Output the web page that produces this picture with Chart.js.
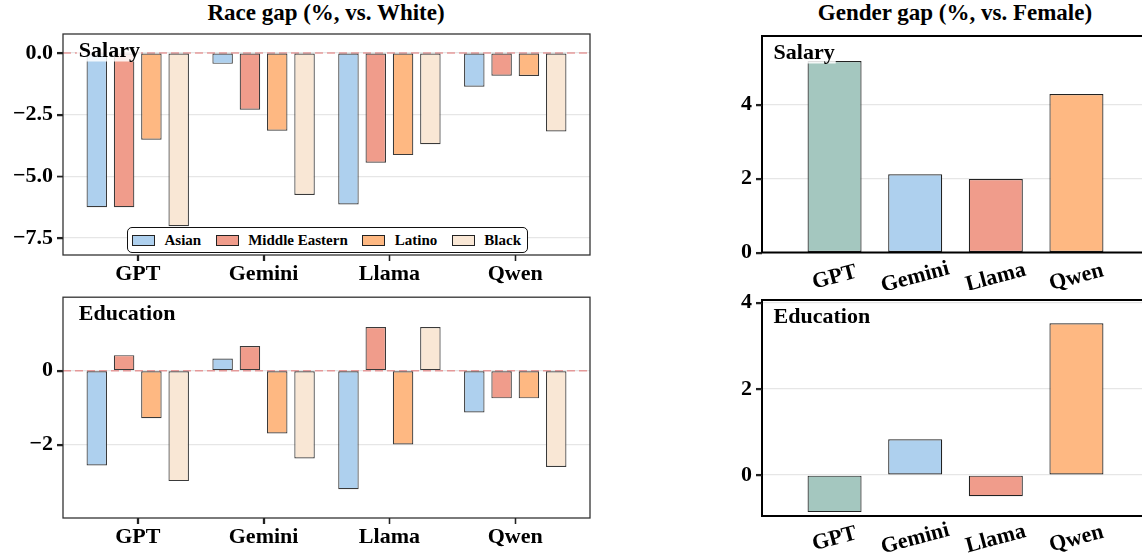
<!DOCTYPE html>
<html lang="en">
<head>
<meta charset="UTF-8" />
<title>Race and gender gap</title>
<script src="https://cdn.jsdelivr.net/npm/chart.js@4.4.1/dist/chart.umd.min.js"></script>
<style>
  *{margin:0;padding:0;box-sizing:border-box}
  html,body{width:1142px;height:557px;overflow:hidden;background:#fff}
  body{position:relative;font-family:'Liberation Serif','Times New Roman',serif;color:#000}
  canvas{position:absolute}
  .title{position:absolute;top:2px;font-weight:bold;font-size:23px;line-height:22px;white-space:nowrap;transform:translateX(-50%)}
  .legend{position:absolute;left:127px;top:227px;height:26px;border:1.5px solid #111;border-radius:5px;background:#fff;display:flex;align-items:center;padding:0 1px 0 4px;font-weight:bold;font-size:15px;white-space:nowrap;z-index:5}
  .legend .item{display:flex;align-items:center;margin-right:14.5px}
  .legend .item:last-child{margin-right:5px}
  .legend .sw{display:inline-block;width:23px;height:11px;border:1.3px solid #222;margin-right:9.5px}
</style>
</head>
<body>
  <div class="title" style="left:326px">Race gap (%, vs. White)</div>
  <div class="title" style="left:955px">Gender gap (%, vs. Female)</div>
  <canvas id="raceSalary" width="600" height="290" style="left:0;top:0"></canvas>
  <canvas id="raceEdu" width="600" height="277" style="left:0;top:280px"></canvas>
  <canvas id="genderSalary" width="500" height="290" style="left:700px;top:0"></canvas>
  <canvas id="genderEdu" width="500" height="277" style="left:700px;top:280px"></canvas>
  <div class="legend" id="legend"></div>
<script>
// data
const models = ['GPT', 'Gemini', 'Llama', 'Qwen'];
const races = ['Asian', 'Middle Eastern', 'Latino', 'Black'];
// race gap (%, vs. White), one array per group, model order
const salaryAsian = [-6.25, -0.44, -6.14, -1.37];
const salaryMiddleEastern = [-6.25, -2.30, -4.45, -0.92];
const salaryLatino = [-3.52, -3.15, -4.14, -0.93];
const salaryBlack = [-7.02, -5.76, -3.70, -3.18];
const eduAsian = [-2.57, 0.33, -3.21, -1.13];
const eduMiddleEastern = [0.42, 0.67, 1.18, -0.75];
const eduLatino = [-1.29, -1.70, -2.00, -0.75];
const eduBlack = [-2.99, -2.38, 1.18, -2.61];
// gender gap (%, vs. Female)
const genderSalaryGap = [5.18, 2.12, 1.99, 4.29];
const genderEduGap = [-0.86, 0.83, -0.49, 3.52];
// tick labels
const salaryRaceTicks = [0, -2.5, -5, -7.5];
const eduRaceTicks = [0, -2];
const genderTicks = [0, 2, 4];

const raceColors = ['#aed0ee', '#f09c8b', '#feb882', '#f9e7d5'];
const modelColors = ['#a4c7bf', '#aed0ee', '#f09c8b', '#feb882'];
const FONT = {family: "'Liberation Serif', 'Times New Roman', serif", size: 22, weight: 'bold'};

const panelPlugin = {
  id: 'panel',
  beforeDatasetsDraw(chart, args, o) {
    if (!o.zeroLine) return;
    const {ctx, chartArea: a} = chart;
    const py = chart.scales.y.getPixelForValue(0);
    ctx.save();
    ctx.strokeStyle = 'rgba(226,120,120,0.7)';
    ctx.lineWidth = 1.5;
    ctx.setLineDash([8, 4]);
    ctx.beginPath(); ctx.moveTo(a.left, py); ctx.lineTo(a.right, py); ctx.stroke();
    ctx.restore();
  },
  afterDatasetsDraw(chart, args, o) {
    const {ctx, chartArea: a} = chart;
    const {x, y} = chart.scales;
    ctx.save();
    ctx.font = "bold 22px 'Liberation Serif'";
    const tx = a.left + 0.03 * (a.right - a.left);
    const base = a.top + 23;
    const w = ctx.measureText(o.label).width;
    ctx.fillStyle = 'rgba(255,255,255,0.85)';
    ctx.fillRect(tx - 2, base - 17, w + 3, 21.5);
    ctx.fillStyle = '#000';
    ctx.fillText(o.label, tx, base);
    ctx.strokeStyle = o.frameColor;
    ctx.lineWidth = o.frameWidth;
    ctx.strokeRect(a.left, a.top, a.right - a.left, a.bottom - a.top);
    // outward tick marks
    ctx.strokeStyle = '#222';
    ctx.lineWidth = 1.3;
    ctx.beginPath();
    y.ticks.forEach((t, i) => {
      const py = Math.round(y.getPixelForTick(i)) + 0.5;
      ctx.moveTo(a.left - 6, py); ctx.lineTo(a.left, py);
    });
    if (!o.rotateOffset) {
      x.ticks.forEach((t, i) => {
        const px = Math.round(x.getPixelForTick(i)) + 0.5;
        ctx.moveTo(px, a.bottom); ctx.lineTo(px, a.bottom + 6);
      });
    }
    ctx.stroke();
    if (o.rotateOffset) {
      // matplotlib style rotated labels, centred on the tick
      ctx.textAlign = 'center';
      ctx.textBaseline = 'middle';
      x.ticks.forEach((t, i) => {
        ctx.save();
        ctx.translate(x.getPixelForTick(i), a.bottom + o.rotateOffset);
        ctx.rotate(-15 * Math.PI / 180);
        ctx.fillText(models[t.value], 0, 0);
        ctx.restore();
      });
    }
    ctx.restore();
  }
};

function minusFmt(dec) {
  return v => (v < 0 ? '\u2212' : '') + Math.abs(v).toFixed(dec);
}

function makeChart(id, cfg) {
  return new Chart(document.getElementById(id), {
    type: 'bar',
    data: {datasets: cfg.datasets},
    plugins: [panelPlugin],
    options: {
      responsive: false,
      animation: false,
      layout: {padding: {top: cfg.padTop, right: cfg.padRight, left: 0, bottom: 0}},
      datasets: {bar: cfg.bar},
      plugins: {
        legend: {display: false},
        tooltip: {enabled: false},
        panel: cfg.panel
      },
      scales: {
        x: {
          type: 'linear', min: cfg.xMin, max: cfg.xMax, offset: false,
          afterBuildTicks: s => { s.ticks = models.map((m, i) => ({value: i})); },
          afterFit: s => { s.height = cfg.xHeight; },
          grid: {offset: false, drawOnChartArea: false, drawTicks: cfg.xTicks, tickLength: 6, tickColor: '#222', tickWidth: 1.3},
          border: {display: false},
          ticks: {display: cfg.xTicks, font: FONT, color: '#000', padding: 0, maxRotation: 0, autoSkip: false,
                  callback: v => models[v]}
        },
        y: {
          min: cfg.yMin, max: cfg.yMax,
          afterBuildTicks: s => { s.ticks = cfg.yTicks.map(v => ({value: v})); },
          afterFit: s => { s.width = cfg.yWidth; },
          grid: {color: '#e6e6e6', lineWidth: 1.2, tickColor: '#222', tickLength: 6, tickWidth: 1.3},
          border: {display: false},
          ticks: {font: FONT, color: '#000', padding: 4, callback: cfg.fmt}
        }
      }
    }
  });
}

function raceSets(groups) {
  return groups.map((vals, k) => ({
    label: races[k],
    data: vals.map((v, i) => ({x: i, y: v})),
    backgroundColor: raceColors[k],
    borderColor: '#3a3a3a',
    borderWidth: 1.2,
    borderSkipped: false
  }));
}

function genderSet(vals) {
  return [{
    label: 'Gender',
    data: vals.map((v, i) => ({x: i, y: v})),
    backgroundColor: modelColors,
    borderColor: '#222',
    borderWidth: 1.2,
    borderSkipped: false
  }];
}

const raceBar = {categoryPercentage: 0.868, barPercentage: 0.75};
const genderBar = {categoryPercentage: 1, barPercentage: 0.67};

makeChart('raceSalary', {
  datasets: raceSets([salaryAsian, salaryMiddleEastern, salaryLatino, salaryBlack]),
  bar: raceBar, padTop: 34, padRight: 10, xHeight: 35, yWidth: 63,
  xMin: -0.594, xMax: 3.594, xTicks: true,
  yMin: -8.19, yMax: 0.77, yTicks: salaryRaceTicks, fmt: minusFmt(1),
  panel: {label: 'Salary', zeroLine: true, frameColor: '#333', frameWidth: 1.3}
});

makeChart('raceEdu', {
  datasets: raceSets([eduAsian, eduMiddleEastern, eduLatino, eduBlack]),
  bar: raceBar, padTop: 17, padRight: 10, xHeight: 39, yWidth: 63,
  xMin: -0.594, xMax: 3.594, xTicks: true,
  yMin: -3.99, yMax: 1.99, yTicks: eduRaceTicks, fmt: minusFmt(0),
  panel: {label: 'Education', zeroLine: true, frameColor: '#333', frameWidth: 1.3}
});

makeChart('genderSalary', {
  datasets: genderSet(genderSalaryGap),
  bar: genderBar, padTop: 36, padRight: 51, xHeight: 37.5, yWidth: 62,
  xMin: -0.9, xMax: 3.9, xTicks: false,
  yMin: 0, yMax: 5.86, yTicks: genderTicks, fmt: minusFmt(0),
  panel: {label: 'Salary', zeroLine: false, frameColor: '#000', frameWidth: 2, rotateOffset: 25}
});

makeChart('genderEdu', {
  datasets: genderSet(genderEduGap),
  bar: genderBar, padTop: 20, padRight: 51, xHeight: 41, yWidth: 62,
  xMin: -0.9, xMax: 3.9, xTicks: false,
  yMin: -0.95, yMax: 4.06, yTicks: genderTicks, fmt: minusFmt(0),
  panel: {label: 'Education', zeroLine: false, frameColor: '#000', frameWidth: 2, rotateOffset: 23}
});

// legend for the race panels
const legend = document.getElementById('legend');
races.forEach((r, k) => {
  const item = document.createElement('div');
  item.className = 'item';
  item.innerHTML = '<span class="sw" style="background:' + raceColors[k] + '"></span>' + r;
  legend.appendChild(item);
});
</script>
</body>
</html>
